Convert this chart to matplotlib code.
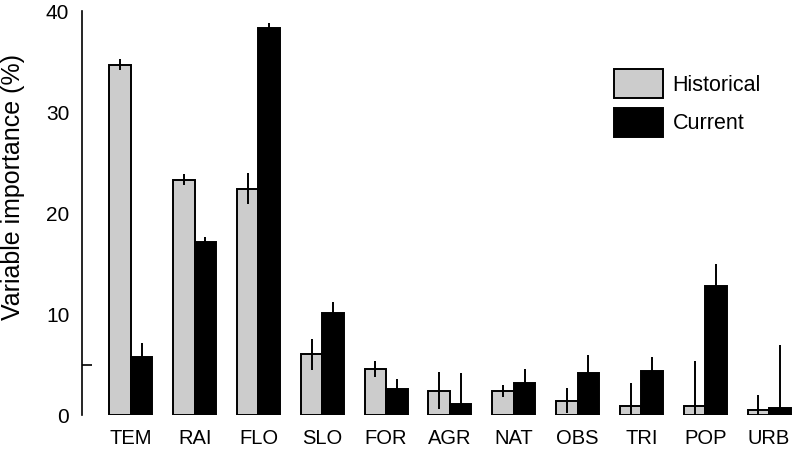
import matplotlib
matplotlib.use("Agg")
import matplotlib.pyplot as plt
import numpy as np

plt.rcParams['font.family'] = ['Liberation Sans', 'DejaVu Sans']

categories = ["TEM", "RAI", "FLO", "SLO", "FOR", "AGR", "NAT", "OBS", "TRI", "POP", "URB"]
historical = [34.7, 23.3, 22.4, 6.0, 4.55, 2.4, 2.4, 1.42, 0.9, 0.9, 0.5]
historical_err = [0.5, 0.55, 1.55, 1.55, 0.8, 1.85, 0.6, 1.25, 2.3, 4.4, 1.5]
current = [5.77, 17.1, 38.3, 10.1, 2.54, 1.06, 3.2, 4.2, 4.36, 12.8, 0.66]
current_err = [1.4, 0.5, 0.5, 1.1, 1.0, 3.1, 1.4, 1.7, 1.4, 2.2, 6.3]
ytick_labels = [0, 10, 20, 30, 40]

fig = plt.figure(figsize=(7.94, 4.49), dpi=100)
ax = fig.add_axes([0.103, 0.0757, 0.897, 0.8998])

x = np.arange(len(categories))
w = 0.337
ax.bar(x - w/2, historical, w, color="#cccccc", edgecolor="black", linewidth=1.4, label="Historical", zorder=2)
ax.bar(x + w/2, current, w, color="black", edgecolor="black", linewidth=1.4, label="Current", zorder=2)
ax.errorbar(x - w/2, historical, yerr=historical_err, fmt="none", ecolor="black", elinewidth=1.4, capsize=0, zorder=3)
ax.errorbar(x + w/2, current, yerr=current_err, fmt="none", ecolor="black", elinewidth=1.4, capsize=0, zorder=3)

ax.set_xlim(-0.768, 10.39)
ax.set_ylim(0, 40)
ax.set_xticks(x)
ax.set_xticklabels(categories, fontsize=14.5)
ax.tick_params(axis="x", length=0, pad=10)
ax.set_yticks(ytick_labels)
ax.set_yticklabels([str(v) for v in ytick_labels], fontsize=15)
ax.tick_params(axis="y", which="major", length=0, pad=9)
ax.set_yticks([5, 30], minor=True)
ax.tick_params(axis="y", which="minor", direction="in", length=7.5, width=1.2)

for s in ["top", "right", "bottom"]:
    ax.spines[s].set_visible(False)
ax.spines["left"].set_linewidth(1.2)

ax.set_ylabel("Variable importance (%)", fontsize=18)
ax.yaxis.set_label_coords(-0.080, 0.564)

leg = ax.legend(loc="upper left", bbox_to_anchor=(0.747, 0.856), frameon=False, fontsize=15.5,
                handlelength=2.28, handleheight=1.7, handletextpad=0.45, labelspacing=0.44,
                borderpad=0, borderaxespad=0)

fig.savefig("out.png", dpi=100)
